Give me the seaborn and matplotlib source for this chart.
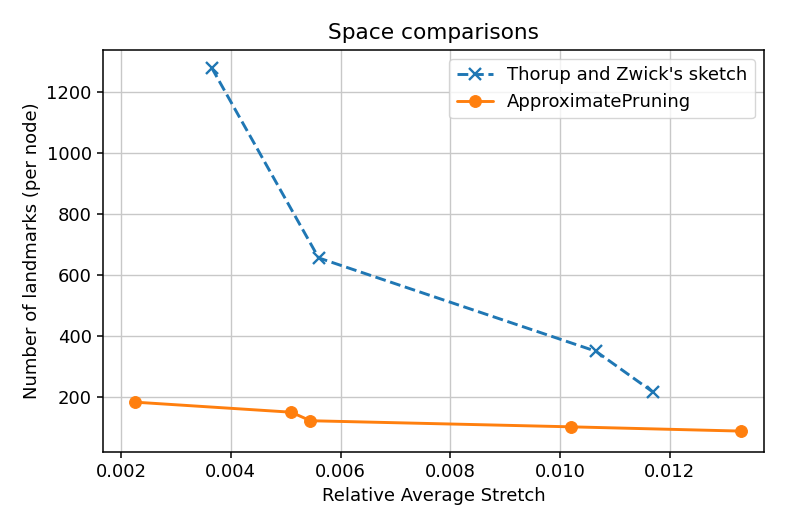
import numpy as np
import pandas as pd
import seaborn as sns
import matplotlib.pyplot as plt

# dados
tz_stretch = [0.00365, 0.0056, 0.01065, 0.0117]
tz_landmarks = [1280, 656, 350, 215]

ap_stretch = [0.00225, 0.0051, 0.00545, 0.0102, 0.0133]
ap_landmarks = [183, 150, 122, 102, 88]

sns.set_style("ticks")
plt.rcParams['font.family'] = ['DejaVu Sans']
plt.rcParams['text.color'] = 'black'
plt.rcParams['axes.labelcolor'] = 'black'
plt.rcParams['xtick.color'] = 'black'
plt.rcParams['ytick.color'] = 'black'
plt.rcParams['axes.edgecolor'] = 'black'

df_tz = pd.DataFrame({'stretch': tz_stretch, 'landmarks': tz_landmarks})
df_ap = pd.DataFrame({'stretch': ap_stretch, 'landmarks': ap_landmarks})

fig, ax = plt.subplots(figsize=(7.89, 5.26), dpi=100)
fig.subplots_adjust(left=0.1305, right=0.968, top=0.905, bottom=0.141)

azul = '#1f77b4'
laranja = '#ff7f0e'

# Thorup-Zwick tracejado com x
sns.lineplot(data=df_tz, x='stretch', y='landmarks', ax=ax, color=azul,
             linestyle='--', marker='x', markersize=8, markeredgewidth=1.7,
             markeredgecolor=azul, linewidth=2.1, label="Thorup and Zwick's sketch", sort=False)
# ApproximatePruning linha cheia com circulos
sns.lineplot(data=df_ap, x='stretch', y='landmarks', ax=ax, color=laranja,
             linestyle='-', marker='o', markersize=8.5, markeredgecolor=laranja,
             linewidth=2.1, label='ApproximatePruning', sort=False)

ax.set_xlim(0.00167, 0.01371)
ax.set_ylim(20, 1338)
ax.set_xticks([0.002, 0.004, 0.006, 0.008, 0.010, 0.012])
ax.set_yticks([200, 400, 600, 800, 1000, 1200])
ax.grid(True, color='#c8c8c8', linewidth=1.0)
for s in ax.spines.values():
    s.set_linewidth(1.1)

ax.set_title('Space comparisons', fontsize=15.6, pad=8)
ax.set_xlabel('Relative Average Stretch', fontsize=13)
ax.set_ylabel('Number of landmarks (per node)', fontsize=13)
ax.tick_params(labelsize=13, length=4.6, width=1.1)
ax.legend(loc='upper right', fontsize=13, frameon=True)

plt.savefig('out.png', dpi=100)
plt.close()
